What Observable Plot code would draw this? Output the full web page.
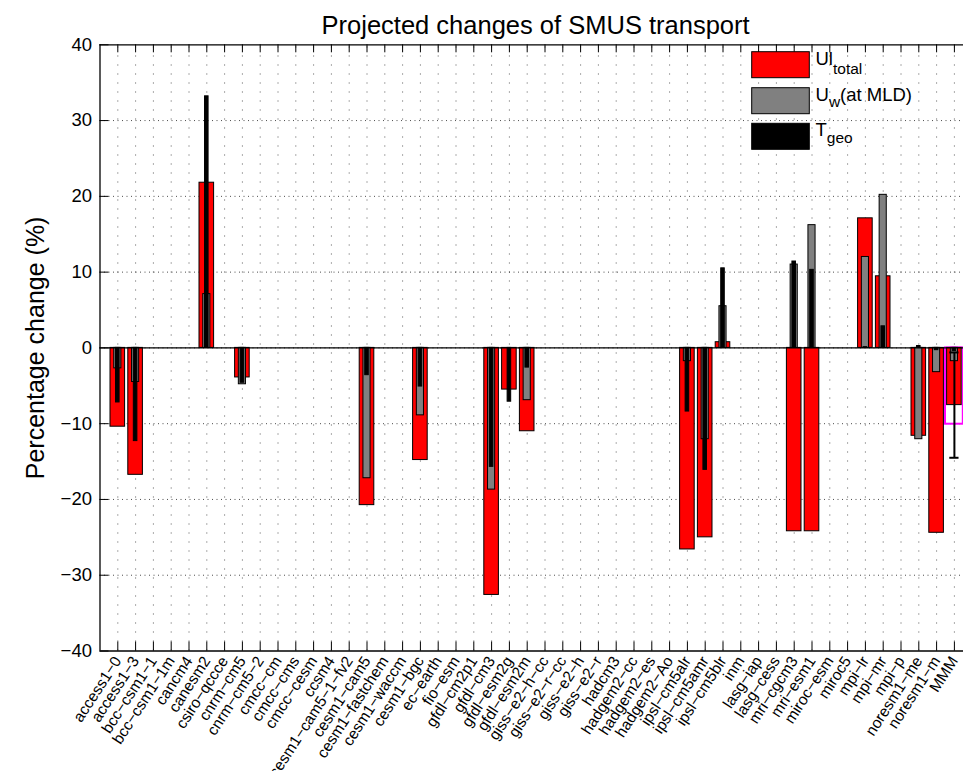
<!DOCTYPE html>
<html><head><meta charset="utf-8">
<script src="https://cdn.jsdelivr.net/npm/d3@7"></script>
<script src="https://cdn.jsdelivr.net/npm/@observablehq/plot@0.6"></script>
<style>
html,body{margin:0;padding:0;background:#fff;overflow:hidden;}
#chart{position:relative;width:963px;height:771px;overflow:hidden;}
</style></head><body><div id="chart"></div>
<script>
// ---------------- data ----------------
const models = ["access1−0","access1−3","bcc−csm1−1","bcc−csm1−1m","cancm4","canesm2","csiro−qccce","cnrm−cm5","cnrm−cm5−2","cmcc−cm","cmcc−cms","cmcc−cesm","ccsm4","cesm1−cam5−1−fv2","cesm1−cam5","cesm1−fastchem","cesm1−waccm","cesm1−bgc","ec−earth","fio−esm","gfdl−cm2p1","gfdl−cm3","gfdl−esm2g","gfdl−esm2m","giss−e2−h−cc","giss−e2−r−cc","giss−e2−h","giss−e2−r","hadcm3","hadgem2−cc","hadgem2−es","hadgem2−Ao","ipsl−cm5alr","ipsl−cm5amr","ipsl−cm5blr","inm","lasg−iap","lasg−cess","mri−cgcm3","mri−esm1","miroc−esm","miroc5","mpi−lr","mpi−mr","mpi−p","noresm1−me","noresm1−m","MMM"];
const ulTotal = [-10.4,-16.75,null,null,null,21.8,null,-3.9,null,null,null,null,null,null,-20.75,null,null,-14.8,null,null,null,-32.6,-5.5,-11.0,null,null,null,null,null,null,null,null,-26.6,-25.0,0.75,null,null,null,-24.2,-24.2,null,null,17.1,9.45,null,-11.6,-24.4,-7.55];
const uwMLD   = [-2.7,-4.5,null,null,null,7.1,null,-4.8,null,null,null,null,null,null,-17.2,null,null,-8.9,null,null,null,-18.7,0,-6.9,null,null,null,null,null,null,null,null,-1.75,-12.05,5.5,null,null,null,11.0,16.2,null,null,12.0,20.2,null,-12.05,-3.2,-1.75];
const tGeo    = [-7.2,-12.3,null,null,null,33.2,null,-4.6,null,null,null,null,null,null,-3.6,null,null,-5.1,null,null,null,-15.7,-7.1,-2.6,null,null,null,null,null,null,null,null,-8.4,-16.1,10.5,null,null,null,11.4,10.3,null,null,0.1,2.85,null,0.25,-0.3,-0.4];
const mmmBox = -10.07;     // MMM outline box
const mmmError = 6.95;     // MMM error half-length
const yTicks = [-40,-30,-20,-10,0,10,20,30,40];
const legendMain = ["Ul","U","T"];
const legendSub = ["total","w","geo"];
const legendAfter = ["","(at MLD)",""];
const legendColors = ["#ff0000","#808080","#000000"];
const titleText = "Projected changes of SMUS transport";
const yLabel = "Percentage change (%)";

// ---------------- build ----------------
const positions = models.map((m,i)=>i+1);
const rows = models.map((m,i)=>({pos:i+1, model:m, ul:ulTotal[i], uw:uwMLD[i], tg:tGeo[i]}));
const mmm = rows[rows.length-1];
const xDomain = [0, models.length+1];
const W = 963, H = 771;
const mL = 99.5, mT = 44.3, yBottom = 650.5;
const step = 17.8;
const xRange = [mL, mL + step*(models.length+1)];
const frameH = yBottom - mT;
const fmt = d => d < 0 ? "−" + (-d) : String(d);
const grid = yTicks.filter(d => d > -40 && d < 40);

const plot = Plot.plot({
  width: W, height: H,
  marginLeft: mL, marginTop: mT, marginBottom: H - yBottom, marginRight: 0,
  style: {fontFamily: "'Liberation Sans', Arial, Helvetica, sans-serif", background: "white", overflow: "hidden", color: "black"},
  x: {type: "linear", domain: xDomain, range: xRange},
  y: {domain: [-40, 40], range: [yBottom, mT]},
  marks: [
    Plot.ruleX(positions, {x: d=>d, y1: -40, y2: 40, stroke: "#000", strokeOpacity: 0.65, strokeDasharray: "1,8"}),
    Plot.ruleY(grid, {y: d=>d, x1: xDomain[0], x2: xDomain[1], stroke: "#000", strokeOpacity: 0.7, strokeDasharray: "1,3.5"}),
    Plot.rect([mmm], {x1: d=>d.pos-0.5, x2: d=>d.pos+0.5, y1: 0, y2: mmmBox, fill: "white", stroke: "#ff00ff", strokeWidth: 2}),
    Plot.rect(rows.filter(d=>d.ul!=null), {x1: d=>d.pos-0.41, x2: d=>d.pos+0.41, y1: 0, y2: "ul", fill: legendColors[0], stroke: "black", strokeWidth: 1}),
    Plot.rect(rows.filter(d=>d.uw!=null && d.uw!==0), {x1: d=>d.pos-0.2, x2: d=>d.pos+0.2, y1: 0, y2: "uw", fill: legendColors[1], stroke: "black", strokeWidth: 1}),
    Plot.rect(rows.filter(d=>d.tg!=null), {x1: d=>d.pos-0.1, x2: d=>d.pos+0.1, y1: 0, y2: "tg", fill: legendColors[2], stroke: "black", strokeWidth: 1}),
    Plot.ruleY([0], {x1: xDomain[0], x2: xDomain[1], stroke: "black", strokeWidth: 1.3}),
    Plot.ruleX([mmm], {x: "pos", y1: d=>d.ul-mmmError, y2: d=>d.ul+mmmError, stroke: "black", strokeWidth: 2}),
    Plot.ruleY([mmm], {y: d=>d.ul-mmmError, x1: d=>d.pos-0.26, x2: d=>d.pos+0.26, stroke: "black", strokeWidth: 2}),
    Plot.ruleY([mmm], {y: d=>d.ul+mmmError, x1: d=>d.pos-0.26, x2: d=>d.pos+0.26, stroke: "black", strokeWidth: 2}),
    // frame
    Plot.ruleY([-40, 40], {y: d=>d, x1: xDomain[0], x2: xDomain[1], stroke: "black", strokeWidth: 1.3}),
    Plot.ruleX([0], {x: d=>d, y1: -40, y2: 40, stroke: "black", strokeWidth: 1.3}),
    // inward ticks
    Plot.tickX(positions, {x: d=>d, insetTop: frameH - 9, stroke: "black", strokeWidth: 1}),
    Plot.tickX(positions, {x: d=>d, insetBottom: frameH - 8, stroke: "black", strokeWidth: 1}),
    Plot.tickY(yTicks, {y: d=>d, insetRight: W - mL - 9, stroke: "black", strokeWidth: 1}),
    // axes labels
    Plot.axisY({ticks: yTicks, tickSize: 0, tickPadding: 8, tickFormat: fmt, fontSize: 18.5, label: null}),
    Plot.axisX({ticks: positions, tickSize: 0, tickPadding: 7, tickRotate: -57, tickFormat: d=>models[d-1], fontSize: 15.5, label: null}),
    Plot.text([yLabel], {frameAnchor: "left", textAnchor: "middle", rotate: -90, dx: -64, fontSize: 25, fill: "black"})
  ]
});
document.getElementById("chart").appendChild(plot);

// title and legend
const svg = d3.select(plot);
const xr = plot.scale("x").range;
svg.append("text").attr("x", (xr[0]+xr[1])/2).attr("y", 34.3).attr("text-anchor","middle")
  .attr("font-size", 25.5).attr("fill","black").text(titleText);
const lg = svg.append("g").attr("text-anchor", "start");
const rowTop = [51.7, 87.7, 123.3];
const subDrop = [9, 6.7, 7];
legendMain.forEach((name, i) => {
  lg.append("rect").attr("x", 751.7).attr("y", rowTop[i]).attr("width", 57.6).attr("height", 26)
    .attr("fill", legendColors[i]).attr("stroke", "black").attr("stroke-width", 1);
  const t = lg.append("text").attr("x", 815.5).attr("y", rowTop[i] + 13).attr("font-size", 18.5)
    .attr("fill","black").attr("text-anchor","start");
  t.append("tspan").text(name);
  t.append("tspan").attr("dy", subDrop[i]).attr("font-size", 15.5).text(legendSub[i]);
  if (legendAfter[i]) t.append("tspan").attr("dy", -subDrop[i]).attr("font-size", 18.5).text(legendAfter[i]);
});
</script></body></html>
